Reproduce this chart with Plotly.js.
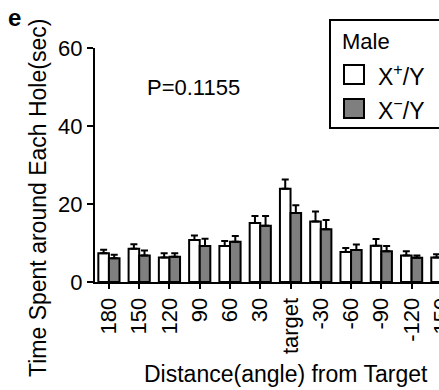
<!DOCTYPE html>
<html><head><meta charset="utf-8">
<script src="https://cdn.plot.ly/plotly-3.0.1.min.js"></script>
<style>html,body{margin:0;padding:0;overflow:hidden;background:#fff;width:439px;height:390px}</style>
</head><body><div id="chart"></div>
<script>
const categories = ['180','150','120','90','60','30','target','-30','-60','-90','-120','-150'];
const wildValues = [7.4, 8.5, 6.3, 10.8, 9.2, 15.1, 23.9, 15.5, 7.7, 9.3, 6.8, 6.3];
const wildErrors = [0.9, 1.2, 1.1, 1.1, 1.3, 1.8, 2.4, 2.6, 1.0, 1.7, 1.1, 0.8];
const mutValues  = [6.1, 6.8, 6.5, 9.2, 10.3, 14.4, 17.7, 13.5, 8.2, 7.9, 6.2, 5.0];
const mutErrors  = [0.9, 1.3, 0.9, 1.9, 1.5, 2.5, 2.0, 2.4, 1.4, 1.3, 0.6, 0.8];
const seriesNames = ['X<sup>+</sup>/Y', 'X<sup>\u2212</sup>/Y'];
const xTitle = 'Distance(angle) from Target';
const yTitle = 'Time Spent around Each Hole(sec)';

const W = 480, H = 390, L = 95, R = 23, T = 48, B = 108;
const pw = W - L - R, ph = H - T - B;
const px = v => (v - L) / pw;
const py = v => (H - B - v) / ph;
const font = 'Liberation Sans, Arial, sans-serif';

function barTrace(vals, errs, color, name) {
  return {
    type: 'bar', x: categories, y: vals, name: name,
    marker: {color: color, line: {color: '#000', width: 2}},
    error_y: {type: 'data', symmetric: false, array: errs, arrayminus: errs.map(() => 0),
              color: '#000', thickness: 2, width: 3.5},
    hoverinfo: 'none'
  };
}

const data = [
  barTrace(wildValues, wildErrors, '#ffffff', seriesNames[0]),
  barTrace(mutValues, mutErrors, '#7f7f7f', seriesNames[1])
];

function note(text, x, y, size, extra) {
  return Object.assign({text: text, xref: 'paper', yref: 'paper', x: px(x), y: py(y),
    xanchor: 'left', yanchor: 'middle', showarrow: false, font: {size: size, family: font, color: '#000'}}, extra || {});
}

const layout = {
  width: W, height: H,
  margin: {l: L, r: R, t: T, b: B},
  paper_bgcolor: '#fff', plot_bgcolor: '#fff',
  showlegend: false,
  barmode: 'group', bargap: 0.3, bargroupgap: 0,
  font: {family: font, color: '#000', size: 22},
  xaxis: {
    type: 'category', range: [-0.46, 11.5],
    showline: true, linecolor: '#000', linewidth: 2,
    ticks: 'outside', ticklen: 5, tickwidth: 2, tickcolor: '#000',
    tickangle: -90, tickfont: {size: 22, family: font},
    showgrid: false, zeroline: false
  },
  yaxis: {
    range: [0, 60], tickvals: [0, 20, 40, 60],
    showline: true, linecolor: '#000', linewidth: 2,
    ticks: 'outside', ticklen: 6, tickwidth: 2, tickcolor: '#000',
    tickfont: {size: 22, family: font},
    showgrid: false, zeroline: false
  },
  shapes: [
    {type: 'rect', xref: 'paper', yref: 'paper', x0: px(330), x1: px(475), y0: py(128), y1: py(20),
     line: {color: '#000', width: 2}, fillcolor: 'rgba(0,0,0,0)'},
    {type: 'rect', xref: 'paper', yref: 'paper', x0: px(344), x1: px(364), y0: py(84), y1: py(65),
     line: {color: '#000', width: 2}, fillcolor: '#ffffff'},
    {type: 'rect', xref: 'paper', yref: 'paper', x0: px(344), x1: px(364), y0: py(118), y1: py(99),
     line: {color: '#000', width: 2}, fillcolor: '#7f7f7f'}
  ],
  annotations: [
    note('<b>e</b>', 6, 17, 24),
    note('P=0.1155', 145, 88, 22),
    note('Male', 340, 41, 22),
    note(seriesNames[0], 376, 75, 23),
    note(seriesNames[1], 376, 109, 23),
    note(xTitle, 286, 374, 23, {xanchor: 'center'}),
    note(yTitle, 38, 198, 23, {xanchor: 'center', textangle: -90})
  ]
};

Plotly.newPlot('chart', data, layout, {displayModeBar: false, staticPlot: true});
</script></body></html>
